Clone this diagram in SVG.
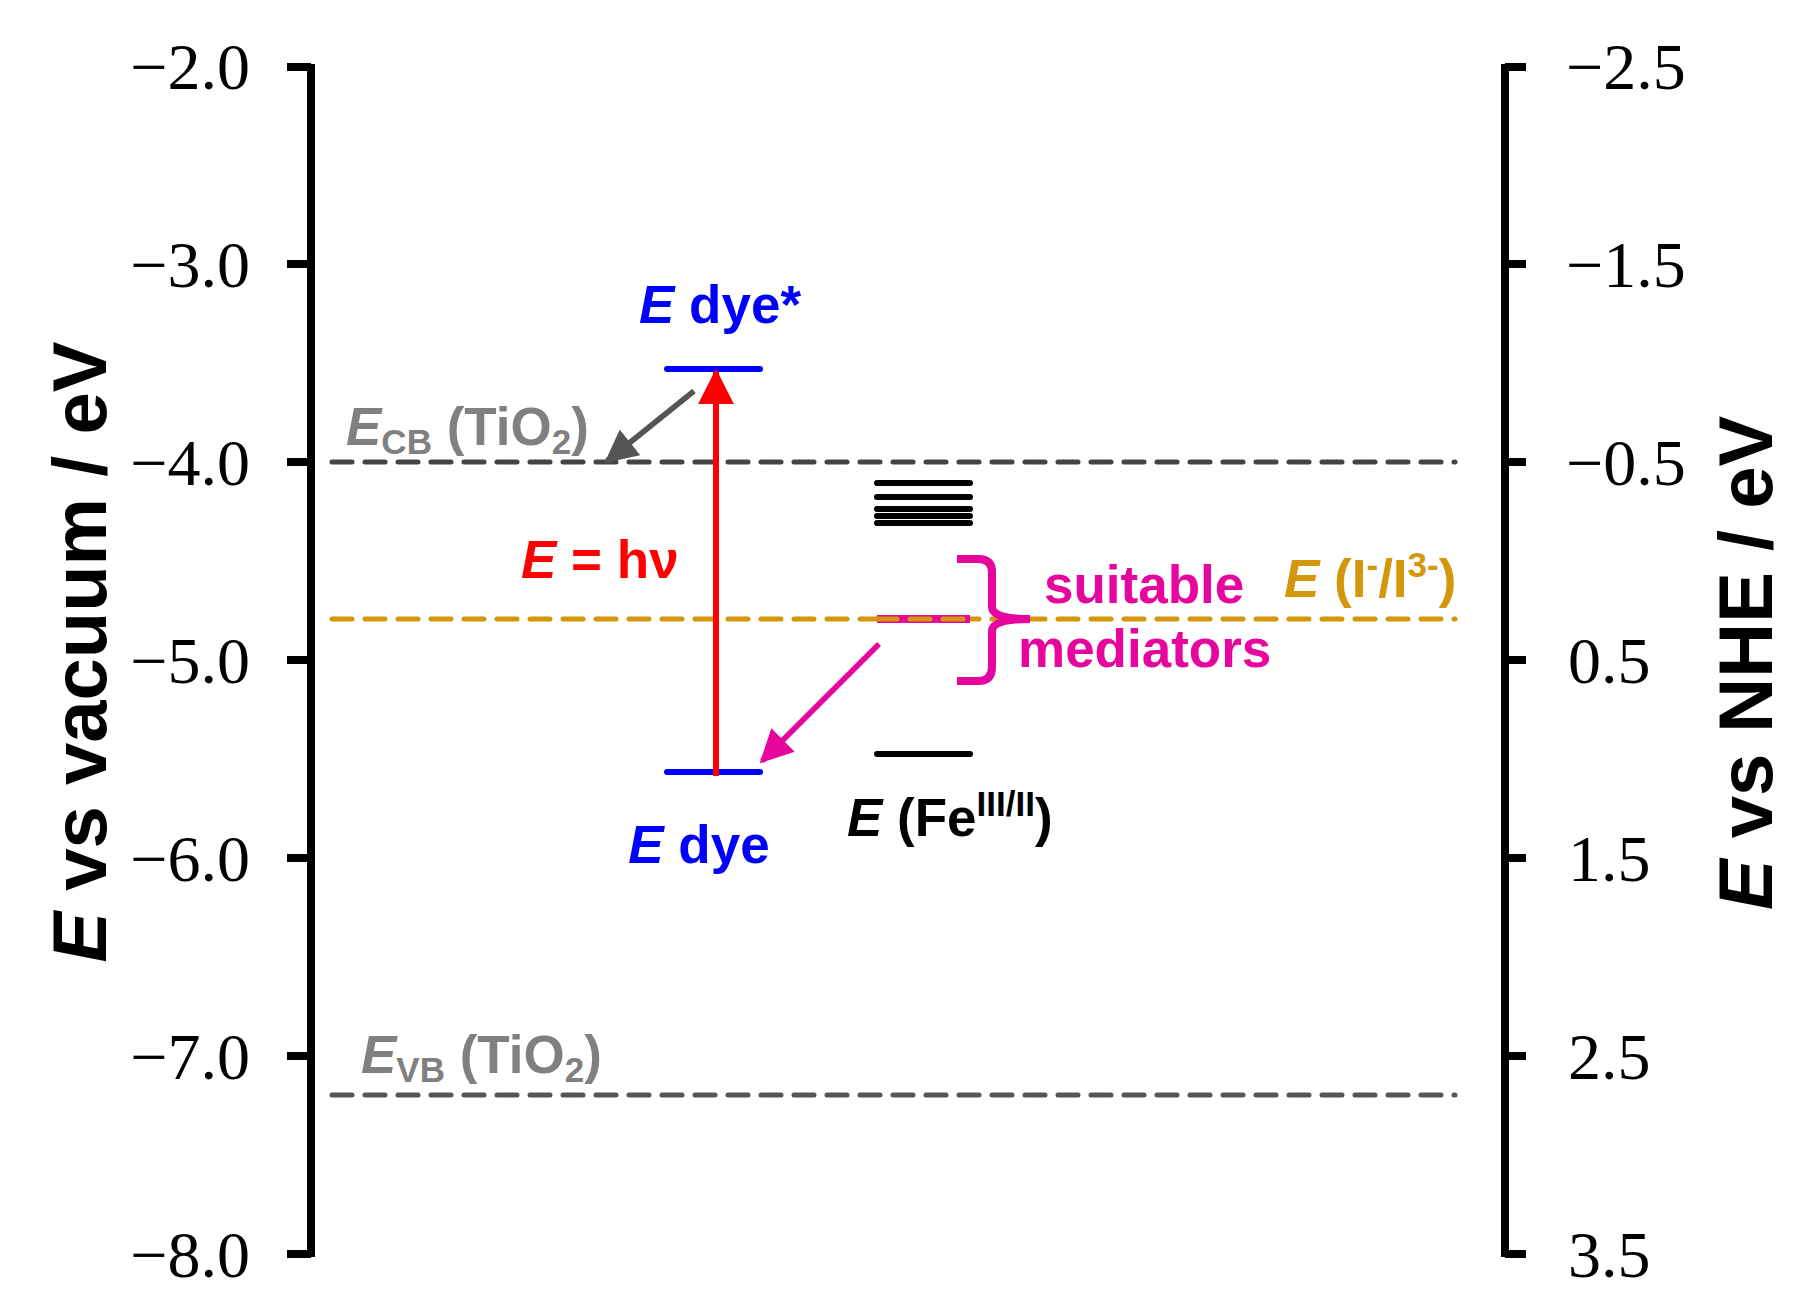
<svg xmlns="http://www.w3.org/2000/svg" width="1816" height="1310" viewBox="0 0 1816 1310">
<style>
.ax{stroke:#000;stroke-width:8;fill:none}
.num{font-family:"Liberation Serif",serif;font-size:66px;fill:#000}
.lb{font-family:"Liberation Sans",Arial,sans-serif;font-weight:bold;font-size:53px}
.ttl{font-family:"Liberation Sans",Arial,sans-serif;font-weight:bold;font-size:76px;fill:#000}
.it{font-style:italic}
.dash{stroke-width:5;stroke-dasharray:20 13;stroke-linecap:round;fill:none}
</style>
<defs>
<marker id="ar" viewBox="0 0 10 10" refX="9" refY="5" markerWidth="6" markerHeight="6" orient="auto" markerUnits="strokeWidth"><path d="M0,0L10,5L0,10z" fill="red"/></marker>
<marker id="ag" viewBox="0 0 10 10" refX="9" refY="5" markerWidth="6" markerHeight="6" orient="auto" markerUnits="strokeWidth"><path d="M0,0L10,5L0,10z" fill="#555"/></marker>
<marker id="am" viewBox="0 0 10 10" refX="9" refY="5" markerWidth="6" markerHeight="6" orient="auto" markerUnits="strokeWidth"><path d="M0,0L10,5L0,10z" fill="#E6069E"/></marker>
</defs>
<g id="left-axis">
<path class="ax" d="M311,64V1257M287,67H311M287,264H311M287,462H311M287,660H311M287,858H311M287,1056H311M287,1254H311"/>
<g class="num" text-anchor="end">
<text x="250" y="89">−2.0</text><text x="250" y="287">−3.0</text><text x="250" y="485">−4.0</text><text x="250" y="683">−5.0</text><text x="250" y="881">−6.0</text><text x="250" y="1079">−7.0</text><text x="250" y="1277">−8.0</text>
</g>
<text class="ttl" transform="translate(106,652) rotate(-90)" text-anchor="middle"><tspan class="it">E</tspan> vs vacuum / eV</text>
</g>
<g id="right-axis">
<path class="ax" d="M1505,64V1257M1505,67H1526M1505,264H1526M1505,462H1526M1505,660H1526M1505,858H1526M1505,1056H1526M1505,1254H1526"/>
<g class="num">
<text x="1566" y="89">−2.5</text><text x="1566" y="287">−1.5</text><text x="1566" y="485">−0.5</text><text x="1568" y="683">0.5</text><text x="1568" y="881">1.5</text><text x="1568" y="1079">2.5</text><text x="1568" y="1277">3.5</text>
</g>
<text class="ttl" transform="translate(1772,663) rotate(-90)" text-anchor="middle"><tspan class="it">E</tspan> vs NHE / eV</text>
</g>
<g id="cb">
<line class="dash" x1="332" y1="462" x2="1455" y2="462" stroke="#444"/>
<text class="lb" x="346" y="445" fill="#808080"><tspan class="it">E</tspan><tspan font-size="35" dy="9">CB</tspan><tspan dy="-9"> (TiO</tspan><tspan font-size="35" dy="9">2</tspan><tspan dy="-9">)</tspan></text>
</g>
<g id="vb">
<line class="dash" x1="332" y1="1095" x2="1455" y2="1095" stroke="#555"/>
<text class="lb" x="361" y="1073" fill="#808080"><tspan class="it">E</tspan><tspan font-size="35" dy="9">VB</tspan><tspan dy="-9"> (TiO</tspan><tspan font-size="35" dy="9">2</tspan><tspan dy="-9">)</tspan></text>
</g>
<g id="iodide">
<line class="dash" x1="332" y1="619" x2="1455" y2="619" stroke="#D4960A"/>
<text class="lb" x="1284" y="597" fill="#D4960A"><tspan class="it">E</tspan> (I<tspan font-size="35" dy="-20">-</tspan><tspan dy="20">/I</tspan><tspan font-size="35" dy="-20">3-</tspan><tspan dy="20">)</tspan></text>
</g>
<g id="dye-star">
<line x1="667" y1="369" x2="760" y2="369" stroke="#0000FF" stroke-width="6" stroke-linecap="round"/>
<text class="lb" x="720" y="323" fill="#0000FF" text-anchor="middle"><tspan class="it">E</tspan> dye*</text>
</g>
<g id="dye">
<line x1="667" y1="772" x2="760" y2="772" stroke="#0000FF" stroke-width="6" stroke-linecap="round"/>
<text class="lb" x="699" y="863" fill="#0000FF" text-anchor="middle"><tspan class="it">E</tspan> dye</text>
</g>
<g id="hv"><text class="lb" x="521" y="578" fill="red"><tspan class="it">E</tspan> = hν</text></g>
<g id="fe">
<path d="M877,483H970M877,497H970M877,509H970M877,516H970M877,523H970M877,754H970" stroke="#000" stroke-width="6" stroke-linecap="round"/>
<text class="lb" x="847" y="836" fill="#000"><tspan class="it">E</tspan> (Fe<tspan font-size="35" dy="-20">III/II</tspan><tspan dy="20">)</tspan></text>
</g>
<g id="mediators">
<line x1="877" y1="619" x2="970" y2="619" stroke="#E6069E" stroke-width="8"/>
<line class="dash" x1="877" y1="619" x2="970" y2="619" stroke="#D4960A" stroke-width="5"/>
<path d="M957,559H978Q992,559 992,572V607Q992,619 1030,619Q992,619 992,631V667Q992,681 978,681H957" stroke="#E6069E" stroke-width="8" fill="none"/>
<text class="lb" x="1044" y="603" fill="#E6069E">suitable</text>
<text class="lb" x="1018" y="667" fill="#E6069E">mediators</text>
</g>
<g id="connectors">
<line x1="716" y1="776" x2="716" y2="372" stroke="red" stroke-width="6" marker-end="url(#ar)"/>
<line x1="694" y1="391" x2="607" y2="461" stroke="#555" stroke-width="5.5" marker-end="url(#ag)"/>
<line x1="879" y1="644" x2="762" y2="761" stroke="#E6069E" stroke-width="5.5" marker-end="url(#am)"/>
</g>
</svg>
